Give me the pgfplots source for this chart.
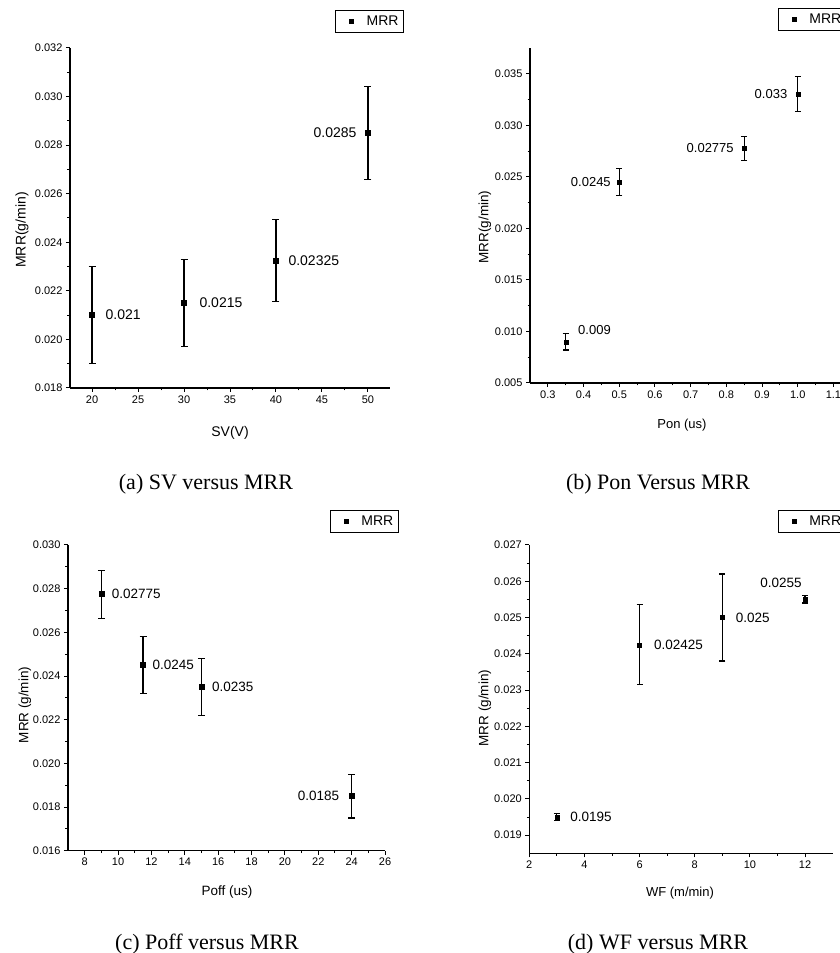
\documentclass[border=0pt]{standalone}
\usepackage{fontspec}
\setmainfont{Liberation Sans}
\newfontfamily\capfont{Liberation Serif}
\usepackage{pgfplots}
\pgfplotsset{compat=1.18}
\pgfplotsset{
  mrr/.style={
    scale only axis,
    anchor=south west,
    axis lines=left,
    axis line style={-, line width=1.2pt},
    tick align=outside,
    major tick length=4pt, minor tick length=2.5pt,
    tick style={black, line width=1pt},
    minor tick num=1,
    scaled ticks=false,
    /pgf/number format/assume math mode=true,
    tick label style={font=\fontsize{11}{11}\selectfont},
    yticklabel style={/pgf/number format/fixed, /pgf/number format/fixed zerofill, /pgf/number format/precision=3},
    legend style={draw=black, line width=1.2pt, font=\fontsize{14}{14}\selectfont, inner xsep=3pt, inner ysep=3.5pt},
    legend image code/.code={\path[draw=none] (0pt,0pt) -- (26pt,0pt); \fill[black, draw=none] (10.7pt,-2.4pt) rectangle (15.3pt,2.4pt);},
    legend cell align=left,
    clip=false,
  },
  mrrplot/.style={only marks, mark=square*, mark size=2.5pt, black, mark options={fill=black, draw=black},
     error bars/y dir=both, error bars/y explicit,
     error bars/error bar style={line width=1.2pt, black},
     error bars/error mark options={rotate=90, mark size=3.5pt, line width=1.2pt, black}},
}
\begin{document}
\begin{tikzpicture}[x=1pt,y=1pt]
\useasboundingbox (0,0) rectangle (840,953);

% (a)
\begin{axis}[mrr, at={(70pt,565pt)}, width=320pt, height=340pt,
  xmin=17.6, xmax=52.4, ymin=0.018, ymax=0.032,
  xtick={20,25,30,35,40,45,50},
  ytick={0.018,0.020,0.022,0.024,0.026,0.028,0.030,0.032},
  legend style={at={(1.044,1.112)}, anchor=north east}]
\addplot[mrrplot] coordinates {
 (20,0.021) +- (0,0.002)
 (30,0.0215) +- (0,0.0018)
 (40,0.02325) +- (0,0.0017)
 (50,0.0285) +- (0,0.0019)
};
\addlegendentry{MRR}
\begin{scope}[every node/.style={font=\fontsize{14}{14}\selectfont}]
\node[anchor=west, xshift=10pt] at (axis cs:20,0.021) {0.021};
\node[anchor=west, xshift=12pt] at (axis cs:30,0.0215) {0.0215};
\node[anchor=west, xshift=9pt] at (axis cs:40,0.02325) {0.02325};
\node[anchor=east, xshift=-8pt] at (axis cs:50,0.0285) {0.0285};
\end{scope}
\end{axis}

% (b)
\begin{axis}[mrr, at={(530pt,570pt)}, width=310.6pt, height=335pt,
  xmin=0.25, xmax=1.12, ymin=0.005, ymax=0.0375,
  xtick={0.3,0.4,0.5,0.6,0.7,0.8,0.9,1.0,1.1},
  xticklabel style={/pgf/number format/fixed, /pgf/number format/fixed zerofill, /pgf/number format/precision=1},
  ytick={0.005,0.010,0.015,0.020,0.025,0.030,0.035},
  legend style={at={(0.798,1.119)}, anchor=north west}]
\addplot[mrrplot, mark size=2pt, error bars/error mark options={rotate=90, mark size=3pt, line width=1.2pt, black}] coordinates {
 (0.35,0.009) +- (0,0.0008)
 (0.5,0.0245) +- (0,0.0013)
 (0.85,0.02775) +- (0,0.0012)
 (1.0,0.033) +- (0,0.0017)
};
\addlegendentry{MRR}
\begin{scope}[every node/.style={font=\fontsize{13}{13}\selectfont}]
\node[anchor=west, xshift=9pt, yshift=12pt] at (axis cs:0.35,0.009) {0.009};
\node[anchor=east, xshift=-5pt] at (axis cs:0.5,0.0245) {0.0245};
\node[anchor=east, xshift=-7pt] at (axis cs:0.85,0.02775) {0.02775};
\node[anchor=east, xshift=-7pt] at (axis cs:1.0,0.033) {0.033};
\end{scope}
\end{axis}

% (c)
\begin{axis}[mrr, at={(68pt,102.3pt)}, width=317pt, height=305.7pt,
  xmin=7, xmax=26, ymin=0.016, ymax=0.030,
  xtick={8,10,12,14,16,18,20,22,24,26},
  ytick={0.016,0.018,0.020,0.022,0.024,0.026,0.028,0.030},
  legend style={at={(1.044,1.114)}, anchor=north east}]
\addplot[mrrplot] coordinates {
 (9,0.02775) +- (0,0.0011)
 (11.5,0.0245) +- (0,0.0013)
 (15,0.0235) +- (0,0.0013)
 (24,0.0185) +- (0,0.001)
};
\addlegendentry{MRR}
\begin{scope}[every node/.style={font=\fontsize{13.5}{13.5}\selectfont}]
\node[anchor=west, xshift=7pt] at (axis cs:9,0.02775) {0.02775};
\node[anchor=west, xshift=6pt] at (axis cs:11.5,0.0245) {0.0245};
\node[anchor=west, xshift=7pt] at (axis cs:15,0.0235) {0.0235};
\node[anchor=east, xshift=-9pt] at (axis cs:24,0.0185) {0.0185};
\end{scope}
\end{axis}

% (d)
\begin{axis}[mrr, at={(529.3pt,99.7pt)}, width=303.3pt, height=308.3pt,
  xmin=2, xmax=13, ymin=0.0185, ymax=0.027,
  xtick={2,4,6,8,10,12},
  ytick={0.019,0.020,0.021,0.022,0.023,0.024,0.025,0.026,0.027},
  legend style={at={(0.819,1.113)}, anchor=north west}]
\addplot[mrrplot, mark size=2pt, error bars/error mark options={rotate=90, mark size=3pt, line width=1.2pt, black}] coordinates {
 (3,0.0195) +- (0,0.0001)
 (6,0.02425) +- (0,0.0011)
 (9,0.025) +- (0,0.0012)
 (12,0.0255) +- (0,0.0001)
};
\addlegendentry{MRR}
\begin{scope}[every node/.style={font=\fontsize{13.5}{13.5}\selectfont}]
\node[anchor=west, xshift=10pt] at (axis cs:3,0.0195) {0.0195};
\node[anchor=west, xshift=11pt] at (axis cs:6,0.02425) {0.02425};
\node[anchor=west, xshift=10pt] at (axis cs:9,0.025) {0.025};
\node[xshift=-24pt, yshift=17pt] at (axis cs:12,0.0255) {0.0255};
\end{scope}
\end{axis}

% axis labels
\begin{scope}[every node/.style={font=\fontsize{14}{14}\selectfont}]
\node at (230,520) {SV(V)};
\node[rotate=90] at (22,723) {MRR(g/min)};
\node[font=\fontsize{13}{13}\selectfont] at (682,528) {Pon (us)};
\node[rotate=90, font=\fontsize{13.5}{13.5}\selectfont] at (485,726) {MRR(g/min)};
\node[font=\fontsize{13.5}{13.5}\selectfont] at (227,61) {Poff (us)};
\node[rotate=90, font=\fontsize{13.5}{13.5}\selectfont] at (25,248) {MRR (g/min)};
\node[font=\fontsize{13}{13}\selectfont] at (680,60) {WF (m/min)};
\node[rotate=90, font=\fontsize{13.5}{13.5}\selectfont] at (485,245) {MRR (g/min)};
\end{scope}

% captions
\begin{scope}[every node/.style={font=\capfont\fontsize{22}{22}\selectfont, anchor=base}]
\node at (206,463) {(a) SV versus MRR};
\node at (658,463) {(b) Pon Versus MRR};
\node at (207,3) {(c) Poff versus MRR};
\node at (658,3) {(d) WF versus MRR};
\end{scope}
\end{tikzpicture}
\end{document}
